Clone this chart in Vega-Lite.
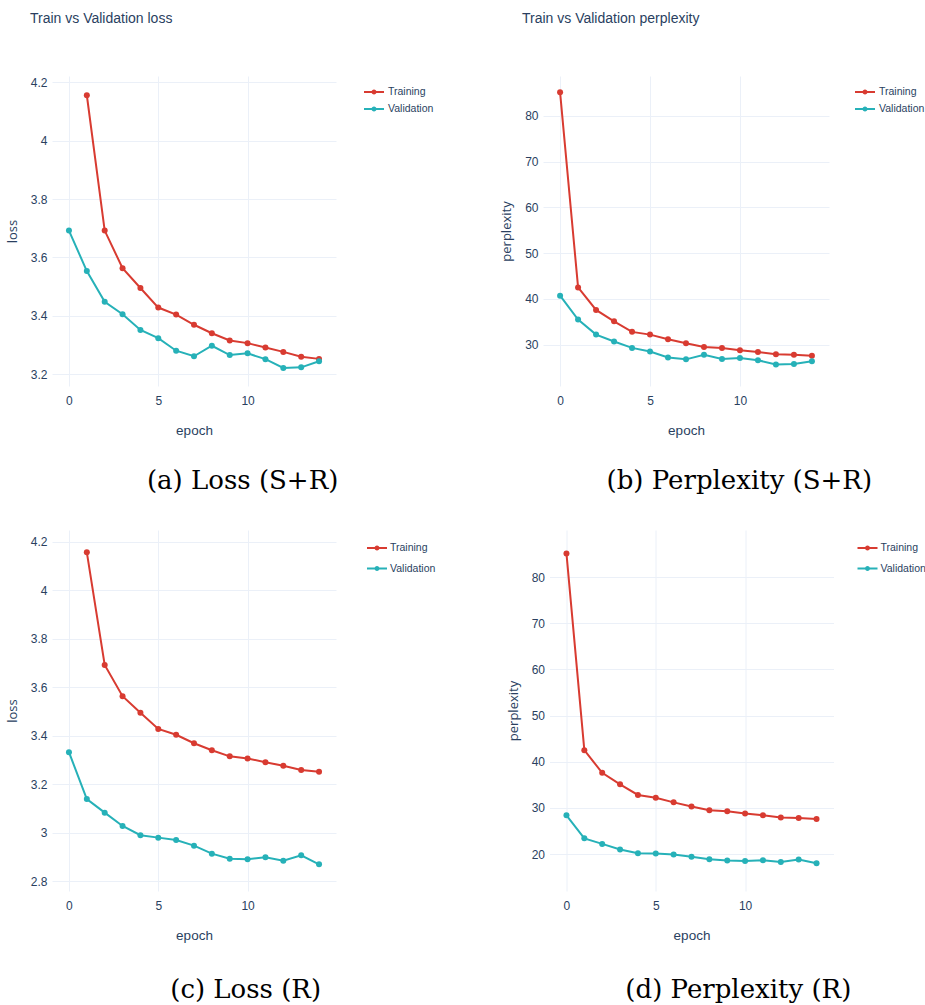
{
  "$schema": "https://vega.github.io/schema/vega-lite/v6.json",
  "background": "white",
  "padding": {"left": 6, "top": 12, "right": 0, "bottom": 0},
  "datasets": {
    "lossSR": [
      {"epoch": 1, "series": "Training", "value": 4.156},
      {"epoch": 2, "series": "Training", "value": 3.692},
      {"epoch": 3, "series": "Training", "value": 3.563},
      {"epoch": 4, "series": "Training", "value": 3.495},
      {"epoch": 5, "series": "Training", "value": 3.428},
      {"epoch": 6, "series": "Training", "value": 3.404},
      {"epoch": 7, "series": "Training", "value": 3.369},
      {"epoch": 8, "series": "Training", "value": 3.340},
      {"epoch": 9, "series": "Training", "value": 3.315},
      {"epoch": 10, "series": "Training", "value": 3.306},
      {"epoch": 11, "series": "Training", "value": 3.291},
      {"epoch": 12, "series": "Training", "value": 3.276},
      {"epoch": 13, "series": "Training", "value": 3.259},
      {"epoch": 14, "series": "Training", "value": 3.252},
      {"epoch": 0, "series": "Validation", "value": 3.692},
      {"epoch": 1, "series": "Validation", "value": 3.553},
      {"epoch": 2, "series": "Validation", "value": 3.448},
      {"epoch": 3, "series": "Validation", "value": 3.405},
      {"epoch": 4, "series": "Validation", "value": 3.351},
      {"epoch": 5, "series": "Validation", "value": 3.323},
      {"epoch": 6, "series": "Validation", "value": 3.280},
      {"epoch": 7, "series": "Validation", "value": 3.261},
      {"epoch": 8, "series": "Validation", "value": 3.297},
      {"epoch": 9, "series": "Validation", "value": 3.265},
      {"epoch": 10, "series": "Validation", "value": 3.271},
      {"epoch": 11, "series": "Validation", "value": 3.251},
      {"epoch": 12, "series": "Validation", "value": 3.221},
      {"epoch": 13, "series": "Validation", "value": 3.223},
      {"epoch": 14, "series": "Validation", "value": 3.244}
    ],
    "pplSR": [
      {"epoch": 0, "series": "Training", "value": 85.1},
      {"epoch": 1, "series": "Training", "value": 42.5},
      {"epoch": 2, "series": "Training", "value": 37.6},
      {"epoch": 3, "series": "Training", "value": 35.1},
      {"epoch": 4, "series": "Training", "value": 32.8},
      {"epoch": 5, "series": "Training", "value": 32.2},
      {"epoch": 6, "series": "Training", "value": 31.2},
      {"epoch": 7, "series": "Training", "value": 30.3},
      {"epoch": 8, "series": "Training", "value": 29.5},
      {"epoch": 9, "series": "Training", "value": 29.3},
      {"epoch": 10, "series": "Training", "value": 28.8},
      {"epoch": 11, "series": "Training", "value": 28.4},
      {"epoch": 12, "series": "Training", "value": 27.9},
      {"epoch": 13, "series": "Training", "value": 27.8},
      {"epoch": 14, "series": "Training", "value": 27.6},
      {"epoch": 0, "series": "Validation", "value": 40.7},
      {"epoch": 1, "series": "Validation", "value": 35.5},
      {"epoch": 2, "series": "Validation", "value": 32.2},
      {"epoch": 3, "series": "Validation", "value": 30.7},
      {"epoch": 4, "series": "Validation", "value": 29.3},
      {"epoch": 5, "series": "Validation", "value": 28.5},
      {"epoch": 6, "series": "Validation", "value": 27.2},
      {"epoch": 7, "series": "Validation", "value": 26.8},
      {"epoch": 8, "series": "Validation", "value": 27.8},
      {"epoch": 9, "series": "Validation", "value": 26.9},
      {"epoch": 10, "series": "Validation", "value": 27.1},
      {"epoch": 11, "series": "Validation", "value": 26.6},
      {"epoch": 12, "series": "Validation", "value": 25.7},
      {"epoch": 13, "series": "Validation", "value": 25.8},
      {"epoch": 14, "series": "Validation", "value": 26.4}
    ],
    "lossR": [
      {"epoch": 1, "series": "Training", "value": 4.156},
      {"epoch": 2, "series": "Training", "value": 3.692},
      {"epoch": 3, "series": "Training", "value": 3.563},
      {"epoch": 4, "series": "Training", "value": 3.495},
      {"epoch": 5, "series": "Training", "value": 3.428},
      {"epoch": 6, "series": "Training", "value": 3.404},
      {"epoch": 7, "series": "Training", "value": 3.369},
      {"epoch": 8, "series": "Training", "value": 3.340},
      {"epoch": 9, "series": "Training", "value": 3.315},
      {"epoch": 10, "series": "Training", "value": 3.306},
      {"epoch": 11, "series": "Training", "value": 3.291},
      {"epoch": 12, "series": "Training", "value": 3.276},
      {"epoch": 13, "series": "Training", "value": 3.259},
      {"epoch": 14, "series": "Training", "value": 3.252},
      {"epoch": 0, "series": "Validation", "value": 3.332},
      {"epoch": 1, "series": "Validation", "value": 3.139},
      {"epoch": 2, "series": "Validation", "value": 3.083},
      {"epoch": 3, "series": "Validation", "value": 3.028},
      {"epoch": 4, "series": "Validation", "value": 2.990},
      {"epoch": 5, "series": "Validation", "value": 2.980},
      {"epoch": 6, "series": "Validation", "value": 2.970},
      {"epoch": 7, "series": "Validation", "value": 2.947},
      {"epoch": 8, "series": "Validation", "value": 2.914},
      {"epoch": 9, "series": "Validation", "value": 2.893},
      {"epoch": 10, "series": "Validation", "value": 2.891},
      {"epoch": 11, "series": "Validation", "value": 2.899},
      {"epoch": 12, "series": "Validation", "value": 2.885},
      {"epoch": 13, "series": "Validation", "value": 2.907},
      {"epoch": 14, "series": "Validation", "value": 2.870}
    ],
    "pplR": [
      {"epoch": 0, "series": "Training", "value": 85.1},
      {"epoch": 1, "series": "Training", "value": 42.5},
      {"epoch": 2, "series": "Training", "value": 37.6},
      {"epoch": 3, "series": "Training", "value": 35.1},
      {"epoch": 4, "series": "Training", "value": 32.8},
      {"epoch": 5, "series": "Training", "value": 32.2},
      {"epoch": 6, "series": "Training", "value": 31.2},
      {"epoch": 7, "series": "Training", "value": 30.3},
      {"epoch": 8, "series": "Training", "value": 29.5},
      {"epoch": 9, "series": "Training", "value": 29.3},
      {"epoch": 10, "series": "Training", "value": 28.8},
      {"epoch": 11, "series": "Training", "value": 28.4},
      {"epoch": 12, "series": "Training", "value": 27.9},
      {"epoch": 13, "series": "Training", "value": 27.8},
      {"epoch": 14, "series": "Training", "value": 27.6},
      {"epoch": 0, "series": "Validation", "value": 28.4},
      {"epoch": 1, "series": "Validation", "value": 23.4},
      {"epoch": 2, "series": "Validation", "value": 22.2},
      {"epoch": 3, "series": "Validation", "value": 21.0},
      {"epoch": 4, "series": "Validation", "value": 20.2},
      {"epoch": 5, "series": "Validation", "value": 20.1},
      {"epoch": 6, "series": "Validation", "value": 19.9},
      {"epoch": 7, "series": "Validation", "value": 19.4},
      {"epoch": 8, "series": "Validation", "value": 18.9},
      {"epoch": 9, "series": "Validation", "value": 18.6},
      {"epoch": 10, "series": "Validation", "value": 18.5},
      {"epoch": 11, "series": "Validation", "value": 18.65},
      {"epoch": 12, "series": "Validation", "value": 18.3},
      {"epoch": 13, "series": "Validation", "value": 18.8},
      {"epoch": 14, "series": "Validation", "value": 18.0}
    ]
  },
  "config": {
    "view": {"stroke": null},
    "axis": {
      "gridColor": "#ebf0f8",
      "gridWidth": 1,
      "domain": false,
      "ticks": false,
      "labelFont": "Liberation Sans",
      "labelFontSize": 12,
      "labelColor": "#2a3f5f",
      "titleFontWeight": "normal",
      "titleColor": "#2a3f5f"
    },
    "axisX": {"labelPadding": 9, "titlePadding": 17, "titleFont": "Liberation Sans", "titleFontSize": 13.5},
    "axisY": {"labelPadding": 5, "titlePadding": 11, "titleFont": "Open Sans", "titleFontSize": 13},
    "legend": {
      "orient": "right",
      "offset": 20,
      "padding": 5,
      "rowPadding": 0,
      "labelFont": "Liberation Sans",
      "labelFontSize": 10.5,
      "labelColor": "#2a3f5f",
      "labelOffset": 3,
      "symbolType": "M-1,0H1M-0.15,0A0.15,0.15,0,1,0,0.15,0A0.15,0.15,0,1,0,-0.15,0",
      "symbolSize": 400,
      "symbolStrokeWidth": 2
    },
    "title": {"fontWeight": "normal"}
  },
  "resolve": {"scale": {"color": "independent"}, "legend": {"color": "independent"}},
  "spacing": 36,
  "vconcat": [
    {
      "resolve": {"scale": {"color": "independent"}, "legend": {"color": "independent"}},
      "spacing": 61,
      "hconcat": [
        {
          "title": {"text": "(a) Loss (S+R)", "orient": "bottom", "anchor": "middle", "font": "DejaVu Serif", "fontSize": 26, "color": "#000000", "offset": 31, "dx": 20},
          "resolve": {"scale": {"color": "independent"}, "legend": {"color": "independent"}},
          "vconcat": [
            {
              "title": {"text": "Train vs Validation loss", "anchor": "start", "frame": "group", "dx": -22, "offset": 50, "font": "Liberation Sans", "fontSize": 14, "color": "#2a3f5f"},
              "width": 284,
              "height": 310,
              "data": {"name": "lossSR"},
              "encoding": {
                "x": {"field": "epoch", "type": "quantitative", "scale": {"domain": [-0.95, 14.95], "nice": false, "zero": false}, "axis": {"values": [0, 5, 10], "title": "epoch"}},
                "y": {"field": "value", "type": "quantitative", "scale": {"domain": [3.159, 4.222], "nice": false, "zero": false}, "axis": {"values": [3.2, 3.4, 3.6, 3.8, 4, 4.2], "format": "~g", "title": "loss"}},
                "color": {"field": "series", "type": "nominal", "scale": {"domain": ["Training", "Validation"], "range": ["#d83b31", "#26b1b8"]}, "legend": {"title": null, "offset": 22}}
              },
              "layer": [
                {"mark": {"type": "line", "strokeWidth": 2}},
                {"mark": {"type": "point", "filled": true, "size": 36, "opacity": 1}}
              ]
            }
          ]
        },
        {
          "title": {"text": "(b) Perplexity (S+R)", "orient": "bottom", "anchor": "middle", "font": "DejaVu Serif", "fontSize": 26, "color": "#000000", "offset": 31, "dx": 24},
          "resolve": {"scale": {"color": "independent"}, "legend": {"color": "independent"}},
          "vconcat": [
            {
              "title": {"text": "Train vs Validation perplexity", "anchor": "start", "frame": "group", "dx": -21, "offset": 50, "font": "Liberation Sans", "fontSize": 14, "color": "#2a3f5f"},
              "width": 286,
              "height": 310,
              "data": {"name": "pplSR"},
              "encoding": {
                "x": {"field": "epoch", "type": "quantitative", "scale": {"domain": [-0.95, 14.95], "nice": false, "zero": false}, "axis": {"values": [0, 5, 10], "title": "epoch"}},
                "y": {"field": "value", "type": "quantitative", "scale": {"domain": [20.98, 88.67], "nice": false, "zero": false}, "axis": {"values": [30, 40, 50, 60, 70, 80], "title": "perplexity"}},
                "color": {"field": "series", "type": "nominal", "scale": {"domain": ["Training", "Validation"], "range": ["#d83b31", "#26b1b8"]}, "legend": {"title": null, "offset": 20}}
              },
              "layer": [
                {"mark": {"type": "line", "strokeWidth": 2}},
                {"mark": {"type": "point", "filled": true, "size": 36, "opacity": 1}}
              ]
            }
          ]
        }
      ]
    },
    {
      "resolve": {"scale": {"color": "independent"}, "legend": {"color": "independent"}},
      "spacing": 63.5,
      "hconcat": [
        {
          "title": {"text": "(c) Loss (R)", "orient": "bottom", "anchor": "middle", "font": "DejaVu Serif", "fontSize": 26, "color": "#000000", "offset": 35, "dx": 21},
          "resolve": {"scale": {"color": "independent"}, "legend": {"color": "independent"}},
          "vconcat": [
            {
              "width": 284,
              "height": 361,
              "data": {"name": "lossR"},
              "encoding": {
                "x": {"field": "epoch", "type": "quantitative", "scale": {"domain": [-0.95, 14.95], "nice": false, "zero": false}, "axis": {"values": [0, 5, 10], "title": "epoch"}},
                "y": {"field": "value", "type": "quantitative", "scale": {"domain": [2.76, 4.248], "nice": false, "zero": false}, "axis": {"values": [2.8, 3, 3.2, 3.4, 3.6, 3.8, 4, 4.2], "format": "~g", "title": "loss"}},
                "color": {"field": "series", "type": "nominal", "scale": {"domain": ["Training", "Validation"], "range": ["#d83b31", "#26b1b8"]}, "legend": {"title": null, "rowPadding": 3.5, "padding": 7, "offset": 23, "labelOffset": 2}}
              },
              "layer": [
                {"mark": {"type": "line", "strokeWidth": 2}},
                {"mark": {"type": "point", "filled": true, "size": 36, "opacity": 1}}
              ]
            }
          ]
        },
        {
          "title": {"text": "(d) Perplexity (R)", "orient": "bottom", "anchor": "middle", "font": "DejaVu Serif", "fontSize": 26, "color": "#000000", "offset": 35, "dx": 18},
          "resolve": {"scale": {"color": "independent"}, "legend": {"color": "independent"}},
          "vconcat": [
            {
              "width": 284,
              "height": 361,
              "data": {"name": "pplR"},
              "encoding": {
                "x": {"field": "epoch", "type": "quantitative", "scale": {"domain": [-0.95, 14.95], "nice": false, "zero": false}, "axis": {"values": [0, 5, 10], "title": "epoch"}},
                "y": {"field": "value", "type": "quantitative", "scale": {"domain": [12, 90.2], "nice": false, "zero": false}, "axis": {"values": [20, 30, 40, 50, 60, 70, 80], "title": "perplexity"}},
                "color": {"field": "series", "type": "nominal", "scale": {"domain": ["Training", "Validation"], "range": ["#d83b31", "#26b1b8"]}, "legend": {"title": null, "rowPadding": 3.5, "padding": 7, "offset": 16, "labelOffset": 2}}
              },
              "layer": [
                {"mark": {"type": "line", "strokeWidth": 2}},
                {"mark": {"type": "point", "filled": true, "size": 36, "opacity": 1}}
              ]
            }
          ]
        }
      ]
    }
  ]
}
